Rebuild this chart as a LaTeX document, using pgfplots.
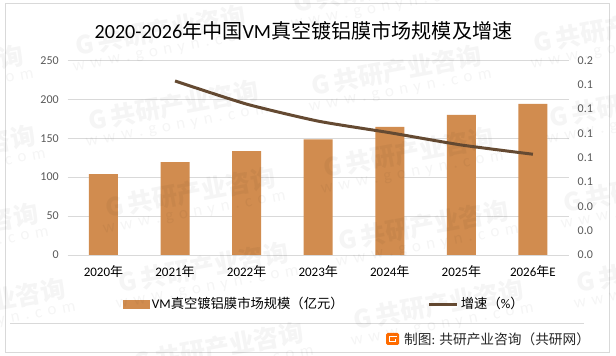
\documentclass[border=0pt]{standalone}
\usepackage{pgfplots}
\pgfplotsset{compat=1.18}
\usepackage{fontspec}
\setmainfont{Carlito}
\newfontfamily\cjk{Noto Sans CJK SC}
\definecolor{barc}{HTML}{D18C4F}
\definecolor{linec}{HTML}{654A32}
\definecolor{gridc}{HTML}{D9D9D9}
\definecolor{tickc}{HTML}{595959}
\definecolor{framec}{HTML}{D9D9D9}
\newcommand{\wm}[2]{%
  \node[rotate=10.5,text=black,opacity=0.038,inner sep=0,align=center] at (#1,356-#2)
    {{\fontsize{25}{25}\selectfont\cjk\bfseries G\,共研产业咨询}\\[3pt]
     {\fontsize{17}{17}\selectfont w\,\,w\,\,w\,\,.\,\,g\,\,o\,\,n\,\,y\,\,n\,\,.\,\,c\,\,o\,\,m}};}
\begin{document}
\begin{tikzpicture}[x=1pt,y=1pt]
\path[use as bounding box] (0,0) rectangle (616,356);
\clip (0,0) rectangle (616,356);
\fill[white] (0,0) rectangle (616,356);
\draw[framec,line width=0.9pt] (5.3,4) rectangle (609.6,352.3);
\begin{axis}[
  name=main,
  at={(67.7pt,101pt)},anchor=south west,
  scale only axis,width=501pt,height=194.7pt,
  xmin=-0.5,xmax=6.5,ymin=0,ymax=250,
  axis line style={draw=none},
  axis x line*=bottom,axis y line*=left,
  xtick={0,1,2,3,4,5,6},
  xticklabels={2020{\cjk 年},2021{\cjk 年},2022{\cjk 年},2023{\cjk 年},2024{\cjk 年},2025{\cjk 年},2026{\cjk 年}E},
  ytick={0,50,100,150,200,250},
  major tick length=0pt,
  ymajorgrids,grid style={gridc,line width=0.8pt},
  tick label style={/pgf/number format/assume math mode=true},
  x tick label style={font=\fontsize{13}{13}\selectfont,text=black,yshift=-7pt},
  y tick label style={font=\fontsize{12}{12}\selectfont,text=tickc,xshift=-5.5pt},
  clip=false,
]
\addplot[ybar,bar width=29pt,fill=barc,draw=none,bar shift=0pt] coordinates {
 (0,104) (1,119.4) (2,133.5) (3,148.5) (4,164.4) (5,179.8) (6,193.9)};
\end{axis}
\begin{axis}[
  at={(67.7pt,101pt)},anchor=south west,
  scale only axis,width=501pt,height=194.7pt,
  xmin=-0.5,xmax=6.5,ymin=0,ymax=0.16,
  axis x line=none,
  axis y line*=right,
  axis line style={draw=none},
  ytick={0,0.02,0.04,0.06,0.08,0.10,0.12,0.14,0.16},
  yticklabels={0.0,0.0,0.0,0.1,0.1,0.1,0.1,0.1,0.2},
  major tick length=0pt,
  y tick label style={font=\fontsize{12}{12}\selectfont,text=tickc,xshift=5.5pt},
  clip=false,
  legend columns=2,
  legend style={draw=none,fill=none,inner sep=0pt,at={(0.1105,-0.2517)},anchor=west,
    font=\fontsize{13.3}{13}\selectfont,
    /tikz/every even column/.append style={column sep=84pt},
    nodes={inner sep=0pt}},
  legend cell align=left,
]
\addlegendimage{legend image code/.code={\fill[barc] (0,-4pt) rectangle (26pt,4pt);}}
\addlegendentry{\,VM{\cjk 真空镀铝膜市场规模（亿元）}}
\addplot[linec,line width=3pt,smooth,tension=0.35,forget plot] coordinates {
 (1,0.143) (2,0.124) (3,0.110) (4,0.1005) (5,0.0904) (6,0.0828)};
\addlegendimage{legend image code/.code={\draw[linec,line width=3pt] (0,0) -- (28pt,0);}}
\addlegendentry{\,{\cjk 增速（}\%{\cjk ）}}
\end{axis}
\node[font=\fontsize{20.1}{20}\selectfont,text=black] at (303.5,325) {2020-2026{\cjk 年中国}VM{\cjk 真空镀铝膜市场规模及增速}};
\draw[framec,line width=0.8pt] (10,32.7) -- (584,32.7);
\fill[orange!85!red,rounded corners=1.5pt] (386,11) rectangle (399,23);
\draw[white,line width=1.5pt] (397,19.5) -- (389.5,19.5) -- (389.5,14.5) -- (395.5,14.5) -- (395.5,17);
\node[anchor=west,inner sep=0,font=\fontsize{13.7}{13}\selectfont,text=black!85] at (404,16.5) {{\cjk 制图}: {\cjk 共研产业咨询（共研网）}};
\wm{162}{38}\wm{175}{113}\wm{192}{200}\wm{205}{275}\wm{220}{355}
\wm{380}{-5}\wm{398}{78}\wm{410}{160}\wm{425}{233}\wm{440}{312}
\wm{620}{35}\wm{636}{110}\wm{650}{195}\wm{663}{275}
\wm{-60}{78}\wm{-48}{158}\wm{-45}{236}\wm{-18}{311}
\end{tikzpicture}
\end{document}
